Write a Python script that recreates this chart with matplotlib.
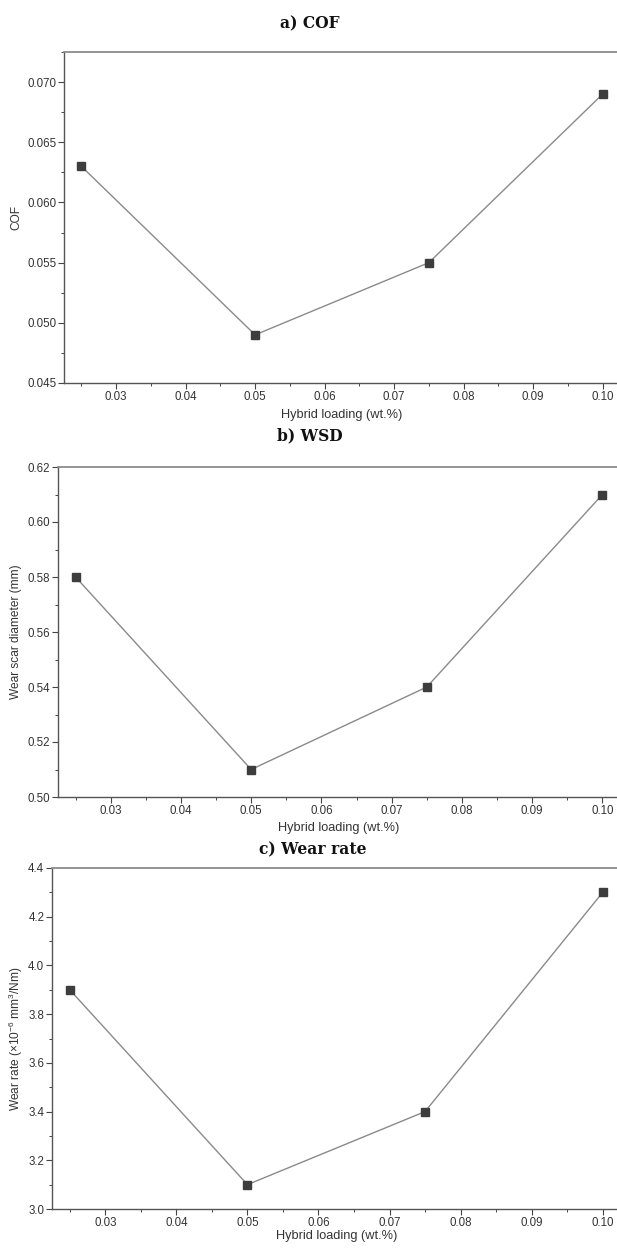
import matplotlib
matplotlib.use("Agg")
import matplotlib.pyplot as plt
from matplotlib.ticker import MultipleLocator, FormatStrFormatter

plt.rcParams["font.family"] = ["Liberation Sans", "DejaVu Sans"]
plt.rcParams["mathtext.fontset"] = "custom"
plt.rcParams["mathtext.rm"] = "Liberation Sans"
plt.rcParams["mathtext.it"] = "Liberation Sans:italic"

# data
loading = [0.025, 0.05, 0.075, 0.10]
cof = [0.063, 0.049, 0.055, 0.069]
wsd = [0.58, 0.51, 0.54, 0.61]
wear_rate = [3.9, 3.1, 3.4, 4.3]

titles = ["a) COF", "b) WSD", "c) Wear rate"]
ylabels = ["COF", "Wear scar diameter (mm)",
           r"Wear rate ($\times$10$^{-6}$ mm$^{3}$/Nm)"]
ylims = [(0.045, 0.0725), (0.50, 0.62), (3.0, 4.4)]
ysteps = [0.005, 0.02, 0.2]
yfmts = ["%.3f", "%.2f", "%.1f"]

W, H = 617, 1249
fig = plt.figure(figsize=(W / 100, H / 100), dpi=100)

# panel boxes in pixels: left, right, top, bottom
boxes = [(64, 620, 52, 383), (58, 620, 467, 797), (52, 620.5, 868, 1209)]
title_pos = [(310, 24), (310, 436), (313, 850)]
xlabel_y = [415, 828, 1236]
ylabel_x = [16.5, 16.5, 16]

series = [cof, wsd, wear_rate]
for i, vals in enumerate(series):
    l, r, t, b = boxes[i]
    ax = fig.add_axes([l / W, 1 - b / H, (r - l) / W, (b - t) / H])
    ax.plot(loading, vals, color="#8a8a8a", lw=1.0, zorder=2)
    ax.plot(loading, vals, ls="none", marker="s", ms=5.2,
            mfc="#3d3d3d", mec="#3d3d3d", zorder=3)

    ax.set_xlim(0.0225, 0.1025)
    ax.set_ylim(*ylims[i])
    ax.xaxis.set_major_locator(MultipleLocator(0.01))
    ax.xaxis.set_minor_locator(MultipleLocator(0.005))
    ax.xaxis.set_major_formatter(FormatStrFormatter("%.2f"))
    ax.yaxis.set_major_locator(MultipleLocator(ysteps[i]))
    ax.yaxis.set_minor_locator(MultipleLocator(ysteps[i] / 2))
    ax.yaxis.set_major_formatter(FormatStrFormatter(yfmts[i]))

    ax.tick_params(which="major", direction="out", length=4, width=0.8,
                   color="#444444", labelsize=8.3, labelcolor="#333333", pad=1.5)
    ax.tick_params(which="minor", direction="out", length=2.2, width=0.7,
                   color="#444444")
    ax.tick_params(top=False, right=False, which="both")

    for side in ["left", "bottom"]:
        ax.spines[side].set_color("#555555")
        ax.spines[side].set_linewidth(1.0)
    ax.spines["top"].set_color("#8c8c8c")
    ax.spines["top"].set_linewidth(1.3)
    ax.spines["right"].set_visible(False)

    ax.set_xlabel("Hybrid loading (wt.%)", fontsize=9.2, color="#333333")
    ax.xaxis.set_label_coords(0.5, -(xlabel_y[i] - b) / (b - t))
    ax.xaxis.label.set_va("center")
    ax.set_ylabel(ylabels[i], fontsize=8.6, color="#333333")
    ax.yaxis.set_label_coords((ylabel_x[i] - l) / (r - l), 0.5)
    ax.yaxis.label.set_va("center")

    tx, ty = title_pos[i]
    fig.text(tx / W, 1 - ty / H, titles[i], ha="center", va="center",
             family="DejaVu Serif", fontweight="bold", fontsize=11.2,
             color="#111111")

fig.savefig("out.png", dpi=100, facecolor="white")
